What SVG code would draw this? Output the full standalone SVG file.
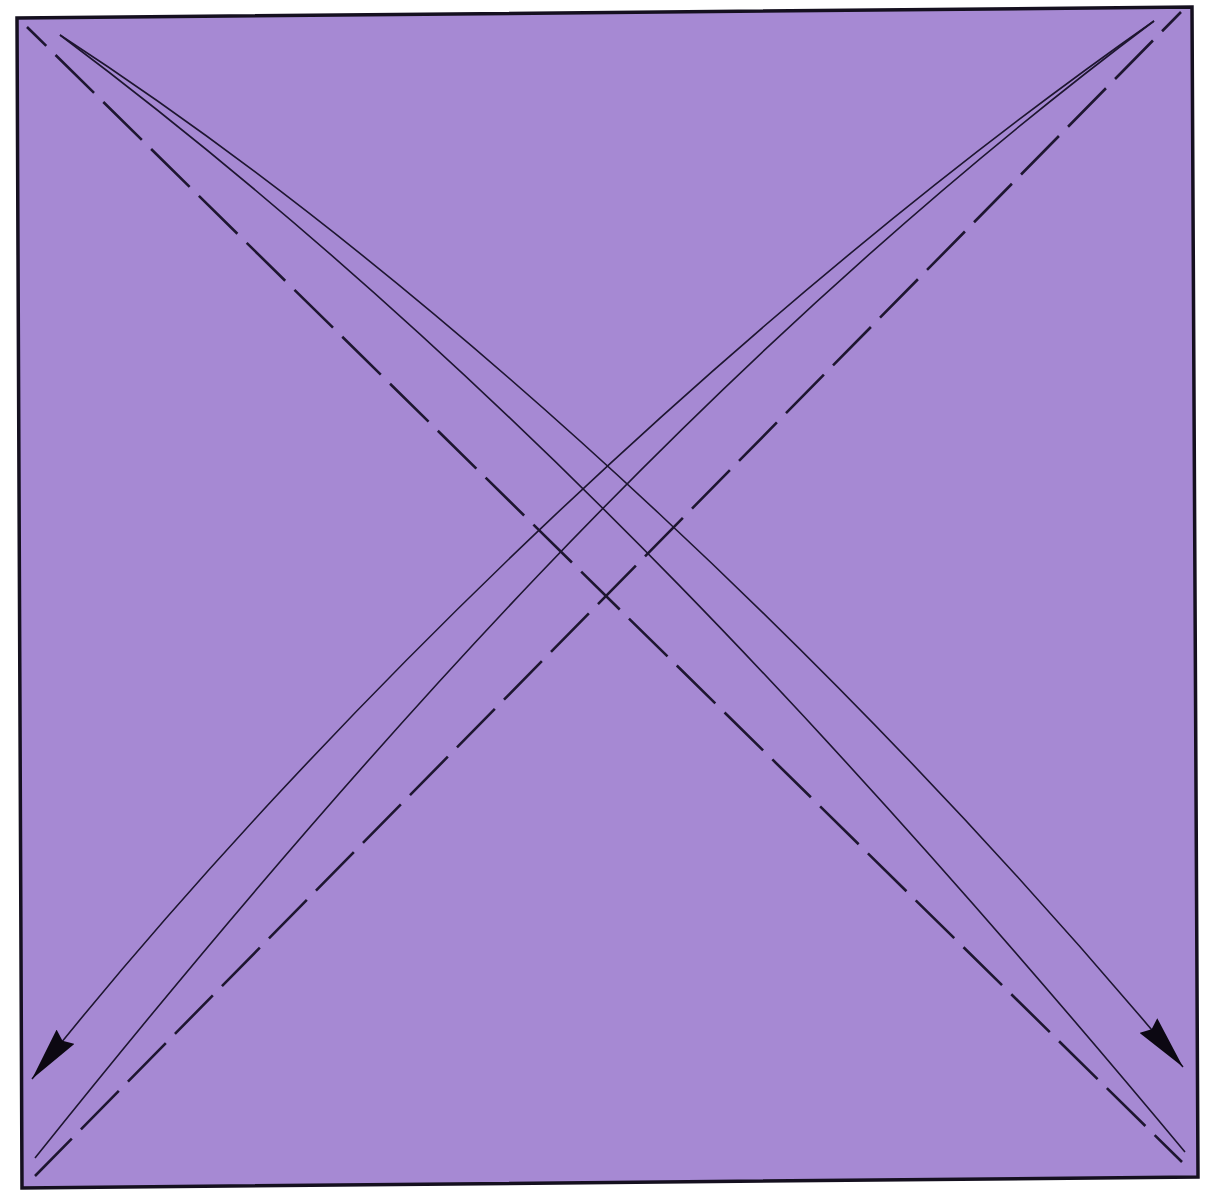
<svg xmlns="http://www.w3.org/2000/svg" width="1211" height="1191" viewBox="0 0 1211 1191">
  <style>
    .paper { fill: #a689d3; stroke: #15101f; stroke-width: 3.5; stroke-linejoin: miter; }
    .valley { fill: none; stroke: #1e1630; stroke-width: 2.6; stroke-dasharray: 54 13; }
    .arrow { fill: none; stroke: #1e1630; stroke-width: 1.6; }
  </style>
  <defs>
    <marker id="head" markerUnits="userSpaceOnUse" viewBox="0 0 54 23" markerWidth="54" markerHeight="23" refX="54" refY="11.5" orient="auto">
      <path d="M0,0 L54,11.5 L0,23 L5,11.5 z" fill="#0c0812"/>
    </marker>
  </defs>
  <rect width="1211" height="1191" fill="#ffffff"/>
  <g id="paper">
    <polygon class="paper" points="17,18 1192,7 1198,1177 22,1188"/>
  </g>
  <g id="connectors">
    <line id="valley-tl-br" class="valley" x1="27" y1="27" x2="1182" y2="1162" stroke-dashoffset="27"/>
    <line id="valley-tr-bl" class="valley" x1="1181" y1="12" x2="35" y2="1176" stroke-dashoffset="27"/>
    <path id="arrow-tl-out" class="arrow" d="M60,35 C460,295 883,707 1183,1067" marker-end="url(#head)"/>
    <path id="arrow-tl-back" class="arrow" d="M60,35 C510,372 885,792 1185,1152"/>
    <path id="arrow-tr-out" class="arrow" d="M1154,21 C754,301 322,714 32,1079" marker-end="url(#head)"/>
    <path id="arrow-tr-back" class="arrow" d="M1154,21 C704,358 335,783 35,1158"/>
  </g>
</svg>
